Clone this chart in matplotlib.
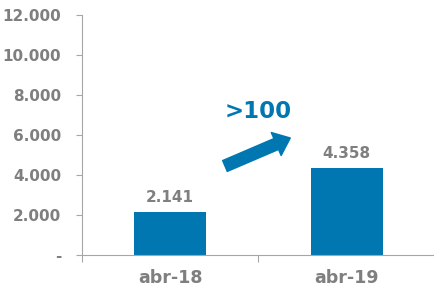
import matplotlib
matplotlib.use("Agg")
import matplotlib.pyplot as plt

categories = ["abr-18", "abr-19"]
values = [2141, 4358]
value_labels = ["2.141", "4.358"]
yticks = [0, 2000, 4000, 6000, 8000, 10000, 12000]
ytick_labels = ["-", "2.000", "4.000", "6.000", "8.000", "10.000", "12.000"]

blue = "#0077B0"
gray = "#7F7F7F"
axis_gray = "#A6A6A6"

fig = plt.figure(figsize=(4.35, 2.9), dpi=100)
ax = fig.add_axes([82/435, 1-255/290, 1-82/435, (255-15)/290])

x = list(range(len(categories)))
ax.bar(x, values, width=0.41, color=blue, zorder=2)
ax.set_xlim(-0.5, 1.5)
ax.set_ylim(0, 12000)

ax.set_yticks(yticks)
ax.set_yticklabels(ytick_labels, fontsize=11, fontweight="bold", color=gray)
ax.set_xticks([-0.5, 0.5, 1.5])
ax.set_xticklabels([])
ax.set_xticks(x, minor=True)
ax.set_xticklabels(categories, minor=True, fontsize=12.5, fontweight="bold", color=gray)
ax.tick_params(axis="x", which="minor", length=0, pad=10)
ax.tick_params(axis="x", which="major", length=5, color=axis_gray, direction="out")
ax.tick_params(axis="y", length=4, color=axis_gray, pad=11)

for s in ["top", "right"]:
    ax.spines[s].set_visible(False)
for s in ["left", "bottom"]:
    ax.spines[s].set_color(axis_gray)

for xi, v, lab in zip(x, values, value_labels):
    ax.text(xi, v + 350, lab, ha="center", va="bottom", fontsize=11, fontweight="bold", color=gray)

ax.annotate("", xy=(0.68, 5850), xytext=(0.31, 4450),
            arrowprops=dict(arrowstyle="simple,head_width=1.8,head_length=1.1,tail_width=0.85",
                            mutation_scale=10, color=blue, shrinkA=0, shrinkB=0))
ax.text(0.497, 7150, ">100", ha="center", va="center", fontsize=16.5, fontweight="bold", color=blue)

fig.savefig("out.png", dpi=100)
